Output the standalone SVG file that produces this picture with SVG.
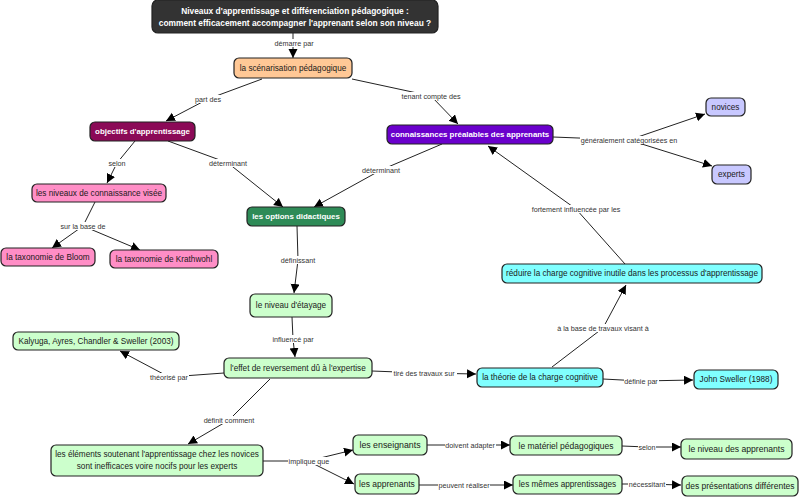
<svg xmlns="http://www.w3.org/2000/svg" width="800" height="497" viewBox="0 0 800 497">
<defs>
<marker id="ah" markerUnits="userSpaceOnUse" markerWidth="10" markerHeight="10" refX="9" refY="4.5" orient="auto"><path d="M0,0 L9,4.5 L0,9 z" fill="#000"/></marker>
<style>
.n rect{stroke:#222;stroke-width:1.2}
.n text{font-family:"Liberation Sans",Arial,sans-serif;font-size:8.2px;fill:#1a1a1a;text-anchor:middle;dominant-baseline:central}
.n text.w{fill:#fff;font-weight:bold;font-size:7.9px}
.c polyline{fill:none;stroke:#222;stroke-width:1;marker-end:url(#ah)}
.c line{stroke:#222;stroke-width:1}
.lb rect{fill:#fff}
.lb text{font-family:"Liberation Sans",Arial,sans-serif;font-size:7.2px;fill:#333;text-anchor:middle;dominant-baseline:central}
</style>
</defs>
<rect width="800" height="497" fill="#fff"/>
<g id="connectors" class="c">
<polyline points="293,33 293,43 293,58"/>
<polyline points="262,79 208,99 166,121"/>
<polyline points="352,79 431,96 458,124"/>
<line x1="553" y1="137" x2="629" y2="140"/>
<polyline points="629,140 705,114"/>
<polyline points="629,140 712,166"/>
<polyline points="135,141 117,163 107,183"/>
<polyline points="168,141 228,163 283,207"/>
<polyline points="442,144 381,170 314,207"/>
<line x1="95" y1="202" x2="83" y2="226"/>
<polyline points="83,226 52,248"/>
<polyline points="83,226 140,250"/>
<polyline points="297,226 298,260 294,293"/>
<polyline points="292,317 293,339 295,357"/>
<polyline points="224,373 169,377 120,351"/>
<polyline points="372,371 424,373 476,374"/>
<polyline points="270,379 229,420 188,444"/>
<line x1="263" y1="461" x2="308" y2="461"/>
<polyline points="308,461 353,450"/>
<polyline points="308,461 354,484"/>
<polyline points="427,445 470,445 510,445"/>
<polyline points="419,485 464,485 513,485"/>
<polyline points="622,446 647,447 681,447"/>
<polyline points="622,484 647,484 681,485"/>
<polyline points="603,379 641,381 693,380"/>
<polyline points="552,367 603,328 626,285"/>
<polyline points="625,264 576,209 488,146"/>
</g>
<g id="labels" class="lb">
<rect x="274" y="39" width="40" height="8"/><text x="294" y="43">démarre par</text>
<rect x="194" y="95" width="28" height="8"/><text x="208" y="99">part des</text>
<rect x="401" y="92" width="60" height="8"/><text x="431" y="96">tenant compte des</text>
<rect x="580" y="136" width="98" height="8"/><text x="629" y="140">généralement catégorisées en</text>
<rect x="108" y="159" width="18" height="8"/><text x="117" y="163">selon</text>
<rect x="209" y="159" width="38" height="8"/><text x="228" y="163">déterminant</text>
<rect x="362" y="166" width="38" height="8"/><text x="381" y="170">déterminant</text>
<rect x="61" y="222" width="45" height="8"/><text x="83" y="226">sur la base de</text>
<rect x="280" y="256" width="36" height="8"/><text x="298" y="260">définissant</text>
<rect x="272" y="335" width="43" height="8"/><text x="293" y="339">influencé par</text>
<rect x="149" y="373" width="40" height="8"/><text x="169" y="377">théorisé par</text>
<rect x="392" y="369" width="65" height="8"/><text x="424" y="373">tiré des travaux sur</text>
<rect x="203" y="416" width="53" height="8"/><text x="229" y="420">définit comment</text>
<rect x="288" y="457" width="42" height="8"/><text x="309" y="461">implique que</text>
<rect x="445" y="441" width="51" height="8"/><text x="470" y="445">doivent adapter</text>
<rect x="438" y="481" width="52" height="8"/><text x="464" y="485">peuvent réaliser</text>
<rect x="638" y="443" width="18" height="8"/><text x="647" y="447">selon</text>
<rect x="628" y="480" width="38" height="8"/><text x="647" y="484">nécessitant</text>
<rect x="624" y="377" width="35" height="8"/><text x="641" y="381">définie par</text>
<rect x="557" y="324" width="93" height="8"/><text x="603" y="328">à la base de travaux visant à</text>
<rect x="530" y="205" width="93" height="8"/><text x="576" y="209">fortement  influencée par les</text>
</g>
<g id="title" class="n"><rect x="152" y="0" width="286" height="33" rx="6" fill="#333333"/><text class="w" x="295" y="10.5" style="font-size:8.4px">Niveaux d'apprentissage et différenciation pédagogique :</text><text class="w" x="295" y="23" style="font-size:8.4px">comment efficacement accompagner l'apprenant selon son niveau ?</text></g>
<g id="scenarisation" class="n"><rect x="234" y="58" width="118" height="20" rx="5" fill="#ffc896"/><text x="293" y="68">la scénarisation pédagogique</text></g>
<g id="objectifs" class="n"><rect x="90" y="122" width="105" height="19" rx="5" fill="#8b0a57"/><text class="w" x="142.5" y="131.5">objectifs d'apprentissage</text></g>
<g id="connaissances" class="n"><rect x="387" y="125" width="166" height="19" rx="5" fill="#6a00cc"/><text class="w" x="470" y="134.5">connaissances préalables des apprenants</text></g>
<g id="novices" class="n"><rect x="706" y="98" width="39" height="18" rx="5" fill="#c8c8ff"/><text x="725.5" y="107">novices</text></g>
<g id="experts" class="n"><rect x="712" y="165" width="39" height="19" rx="5" fill="#c8c8ff"/><text x="731.5" y="174.5">experts</text></g>
<g id="niveaux" class="n"><rect x="32" y="184" width="134" height="18" rx="5" fill="#ff8ec6"/><text x="99" y="193">les niveaux de connaissance visée</text></g>
<g id="options" class="n"><rect x="247" y="207" width="98" height="19" rx="5" fill="#2e8b57"/><text class="w" x="296" y="216.5">les options didactiques</text></g>
<g id="bloom" class="n"><rect x="1" y="248" width="94" height="18" rx="5" fill="#ff8ec6"/><text x="48" y="257">la taxonomie de Bloom</text></g>
<g id="krathwohl" class="n"><rect x="110" y="250" width="108" height="18" rx="5" fill="#ff8ec6"/><text x="164" y="259">la taxonomie de Krathwohl</text></g>
<g id="etayage" class="n"><rect x="250" y="294" width="82" height="23" rx="5" fill="#ccffcc"/><text x="291" y="305.5">le niveau d'étayage</text></g>
<g id="effet" class="n"><rect x="224" y="358" width="148" height="20" rx="5" fill="#ccffcc"/><text x="298" y="368">l'effet de reversement dû à l'expertise</text></g>
<g id="kalyuga" class="n"><rect x="13" y="332" width="166" height="18" rx="5" fill="#ccffcc"/><text x="96" y="341">Kalyuga, Ayres, Chandler &amp; Sweller (2003)</text></g>
<g id="theorie" class="n"><rect x="477" y="368" width="126" height="19" rx="5" fill="#80ffff"/><text x="540" y="377.5">la théorie de la charge cognitive</text></g>
<g id="sweller" class="n"><rect x="694" y="370" width="84" height="19" rx="5" fill="#80ffff"/><text x="736" y="379.5">John Sweller (1988)</text></g>
<g id="reduire" class="n"><rect x="502" y="264" width="260" height="19" rx="5" fill="#80ffff"/><text x="632" y="273.5">réduire la charge cognitive inutile dans les processus d'apprentissage</text></g>
<g id="elements" class="n"><rect x="51" y="445" width="212" height="31" rx="5" fill="#ccffcc"/><text x="157" y="454.5">les éléments soutenant l'apprentissage chez les novices</text><text x="157" y="466">sont inefficaces voire nocifs pour les experts</text></g>
<g id="enseignants" class="n"><rect x="353" y="435" width="74" height="20" rx="5" fill="#ccffcc"/><text x="390" y="445" style="font-size:8.8px">les enseignants</text></g>
<g id="apprenants" class="n"><rect x="355" y="474" width="64" height="20" rx="5" fill="#ccffcc"/><text x="387" y="484" style="font-size:8.5px">les apprenants</text></g>
<g id="materiel" class="n"><rect x="510" y="436" width="112" height="19" rx="5" fill="#ccffcc"/><text x="566" y="445.5" style="font-size:8.5px">le matériel pédagogiques</text></g>
<g id="niveauApprenants" class="n"><rect x="681" y="439" width="111" height="20" rx="5" fill="#ccffcc"/><text x="736.5" y="449" style="font-size:8.6px">le niveau des apprenants</text></g>
<g id="memes" class="n"><rect x="513" y="475" width="109" height="19" rx="5" fill="#ccffcc"/><text x="567.5" y="484.5">les mêmes apprentissages</text></g>
<g id="presentations" class="n"><rect x="682" y="476" width="116" height="20" rx="5" fill="#ccffcc"/><text x="740" y="486" style="font-size:8.5px">des présentations différentes</text></g>
</svg>
